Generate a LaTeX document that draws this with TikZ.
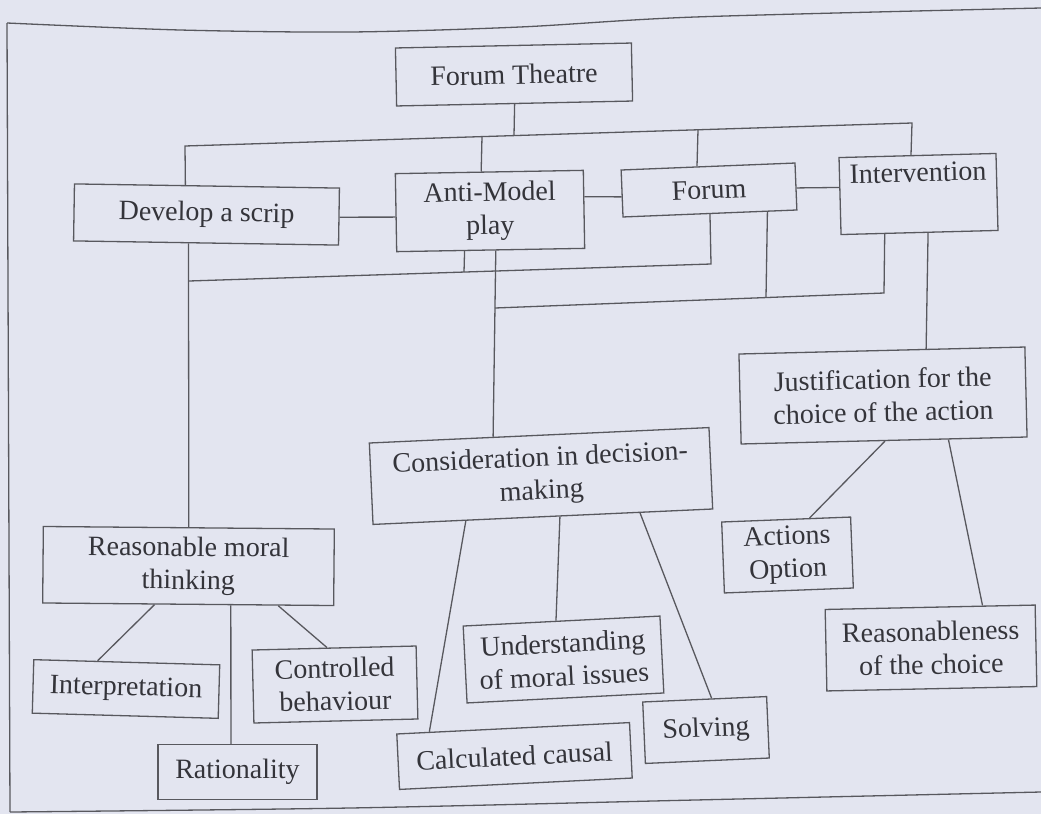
\documentclass[tikz,border=0pt]{standalone}
\usepackage{fontspec}
\setmainfont{Liberation Serif}
\usetikzlibrary{calc}
\definecolor{bg}{RGB}{227,229,240}
\definecolor{ln}{RGB}{88,88,94}
\definecolor{tx}{RGB}{52,52,58}
\begin{document}
\begin{tikzpicture}[x=1pt,y=-1pt,
  box/.style={draw=ln, line width=1.3pt, inner sep=0pt, align=center, text=tx,
    font=\fontsize{28}{33}\selectfont},
  lk/.style={draw=ln, line width=1.3pt}]
\useasboundingbox (0,0) rectangle (1041,814);
\fill[bg] (0,0) rectangle (1041,814);
% frame
\draw[lk] plot[smooth] coordinates {(1041,8) (695,17) (520,27) (350,32) (180,30) (7,23)};
\draw[lk] (7,23) -- (10,812);
\draw[lk] plot[smooth] coordinates {(10,812) (350,808) (695,800) (1041,792)};
% nodes
\node[box, minimum width=236pt, minimum height=58pt, rotate=1.2] (ft) at (514,74.5) {Forum Theatre};
\node[box, minimum width=188pt, minimum height=78pt, rotate=1] (am) at (490,211) {Anti-Model\\play};
\node[box, minimum width=265pt, minimum height=57pt, rotate=-0.9] (dev) at (206.5,214.5) {Develop a scrip};
\node[box, minimum width=174pt, minimum height=47pt, rotate=2.3] (fo) at (709,190) {Forum};
\node[box, minimum width=157pt, minimum height=77pt, rotate=1.5] (iv) at (918.5,194) {Intervention\\\strut};
\node[box, minimum width=286pt, minimum height=90pt, rotate=1.4] (ju) at (883,395.5) {Justification for the\\choice of the action};
\node[box, minimum width=340pt, minimum height=81.5pt, rotate=2.6] (co) at (541,476) {Consideration in decision-\\making};
\node[box, minimum width=197pt, minimum height=77pt, rotate=2.9] (un) at (563.5,659.5) {Understanding\\of moral issues};
\node[box, minimum width=233pt, minimum height=55.5pt, rotate=2.8] (cc) at (514.5,756) {Calculated causal};
\node[box, minimum width=124pt, minimum height=61.5pt, rotate=2.5] (so) at (706,730) {Solving};
\node[box, minimum width=129pt, minimum height=71pt, rotate=2.2] (ao) at (787.5,555) {Actions\\Option};
\node[box, minimum width=210pt, minimum height=81.5pt, rotate=1.2] (rc) at (931,648) {Reasonableness\\of the choice};
\node[box, minimum width=291pt, minimum height=76.5pt, rotate=-0.5] (rmt) at (188.5,566) {Reasonable moral\\thinking};
\node[box, minimum width=186pt, minimum height=53.5pt, rotate=-1.6] (ip) at (126,689) {Interpretation};
\node[box, minimum width=164pt, minimum height=73pt, rotate=1.4] (cb) at (335,684.5) {Controlled\\behaviour};
\node[box, minimum width=159pt, minimum height=55pt] (ra) at (237.5,772) {Rationality};
% top bus
\coordinate (b1L) at (185,146);
\coordinate (b1R) at (912,123);
\coordinate (j1) at (514,135.6);
\coordinate (j2) at (482,136.6);
\coordinate (j3) at (698,129.8);
\draw[lk] ($(dev.north west)!0.419!(dev.north east)$) -- (b1L) -- (b1R) -- ($(iv.north west)!0.459!(iv.north east)$);
\draw[lk] (ft.south) -- (j1);
\draw[lk] ($(am.north west)!0.457!(am.north east)$) -- (j2);
\draw[lk] ($(fo.north west)!0.437!(fo.north east)$) -- (j3);
% second bus
\coordinate (b2L) at (189,281);
\coordinate (b2R) at (711,264);
\coordinate (j4) at (464,272);
\draw[lk] ($(dev.south west)!0.434!(dev.south east)$) -- (rmt.north);
\draw[lk] (b2L) -- (b2R) -- (fo.south);
\draw[lk] ($(am.south west)!0.362!(am.south east)$) -- (j4);
% third bus
\coordinate (b3L) at (495,308);
\coordinate (b3R) at (884,293);
\coordinate (j5) at (766,297.5);
\draw[lk] ($(am.south west)!0.527!(am.south east)$) -- ($(co.north west)!0.365!(co.north east)$);
\draw[lk] (b3L) -- (b3R) -- ($(iv.south west)!0.28!(iv.south east)$);
\draw[lk] ($(fo.south west)!0.828!(fo.south east)$) -- (j5);
% intervention -> justification
\draw[lk] ($(iv.south west)!0.554!(iv.south east)$) -- ($(ju.north west)!0.654!(ju.north east)$);
% horizontal links
\draw[lk] ($(dev.north east)!0.51!(dev.south east)$) -- ($(am.north west)!0.556!(am.south west)$);
\draw[lk] ($(am.north east)!0.34!(am.south east)$) -- ($(fo.north west)!0.57!(fo.south west)$);
\draw[lk] ($(fo.north east)!0.53!(fo.south east)$) -- ($(iv.north west)!0.39!(iv.south west)$);
% justification children
\draw[lk] ($(ju.south west)!0.503!(ju.south east)$) -- ($(ao.north west)!0.68!(ao.north east)$);
\draw[lk] ($(ju.south west)!0.724!(ju.south east)$) -- ($(rc.north west)!0.748!(rc.north east)$);
% consideration children
\draw[lk] ($(co.south west)!0.274!(co.south east)$) -- ($(cc.north west)!0.142!(cc.north east)$);
\draw[lk] ($(co.south west)!0.55!(co.south east)$) -- ($(un.north west)!0.472!(un.north east)$);
\draw[lk] ($(co.south west)!0.785!(co.south east)$) -- ($(so.north west)!0.556!(so.north east)$);
% reasonable moral thinking children
\draw[lk] ($(rmt.south west)!0.385!(rmt.south east)$) -- ($(ip.north west)!0.344!(ip.north east)$);
\draw[lk] ($(rmt.south west)!0.646!(rmt.south east)$) -- ($(ra.north west)!0.459!(ra.north east)$);
\draw[lk] ($(rmt.south west)!0.808!(rmt.south east)$) -- ($(cb.north west)!0.457!(cb.north east)$);
\end{tikzpicture}
\end{document}
